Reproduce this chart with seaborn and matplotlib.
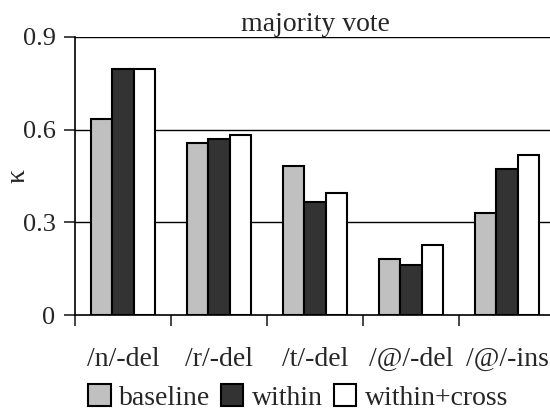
import matplotlib
matplotlib.use("Agg")
import matplotlib.pyplot as plt
import seaborn as sns
import pandas as pd

categories = ["/n/-del", "/r/-del", "/t/-del", "/@/-del", "/@/-ins"]
series_names = ["baseline", "within", "within+cross"]
baseline = [0.634, 0.556, 0.483, 0.180, 0.329]
within = [0.795, 0.569, 0.367, 0.161, 0.472]
within_cross = [0.795, 0.582, 0.394, 0.226, 0.518]
y_ticks = [0, 0.3, 0.6, 0.9]
y_tick_labels = ["0", "0.3", "0.6", "0.9"]

sns.set_style("white")
plt.rcParams["font.family"] = ["Liberation Serif", "DejaVu Serif"]
plt.rcParams["font.size"] = 20

df = pd.DataFrame({
    "category": categories * 3,
    "series": [s for s in series_names for _ in categories],
    "kappa": baseline + within + within_cross,
})

palette = {"baseline": "#c0c0c0", "within": "#333333", "within+cross": "#ffffff"}

fig = plt.figure(figsize=(5.5, 4.12), dpi=100)
ax = fig.add_axes([75 / 550, 97 / 412, 480 / 550, 278 / 412])

sns.barplot(data=df, x="category", y="kappa", hue="series", order=categories,
            hue_order=series_names, palette=palette, width=0.67,
            edgecolor="black", linewidth=1.5, saturation=1, ax=ax,
            legend=False, zorder=3)

ax.set_xlim(-0.5, 4.5)
ax.set_ylim(0, 0.9)
ax.set_yticks(y_ticks)
ax.set_yticklabels(y_tick_labels, fontsize=19)
for y in y_ticks[1:]:
    ax.axhline(y, color="black", linewidth=1.0, zorder=1)

for side in ["top", "right"]:
    ax.spines[side].set_visible(False)
for side in ["left", "bottom"]:
    ax.spines[side].set_color("black")
    ax.spines[side].set_linewidth(1.2)
    ax.spines[side].set_zorder(4)

ax.tick_params(axis="y", which="major", direction="out", length=8, width=1.2,
               left=True, pad=6)
ax.set_xticks(range(len(categories)))
ax.set_xticklabels(categories, fontsize=20)
ax.tick_params(axis="x", which="major", length=0, pad=23)
ax.set_xticks([i - 0.5 for i in range(len(categories) + 1)], minor=True)
ax.tick_params(axis="x", which="minor", direction="out", length=8, width=1.2,
               bottom=True)

ax.set_xlabel("")
ax.set_ylabel("κ", fontsize=20, va="center", ha="center")
ax.yaxis.set_label_coords(-0.119, 0.5)
ax.set_title("majority vote", fontsize=20, pad=4)

handles = [plt.Rectangle((0, 0), 1, 1, facecolor=palette[s], edgecolor="black",
                         linewidth=1.5) for s in series_names]
fig.legend(handles, series_names, loc="center", bbox_to_anchor=(0.542, 0.035),
           ncol=3, frameon=False, handlelength=0.8, handleheight=0.8,
           handletextpad=0.3, columnspacing=0.4, fontsize=20, borderpad=0)

fig.savefig("out.png", dpi=100)
